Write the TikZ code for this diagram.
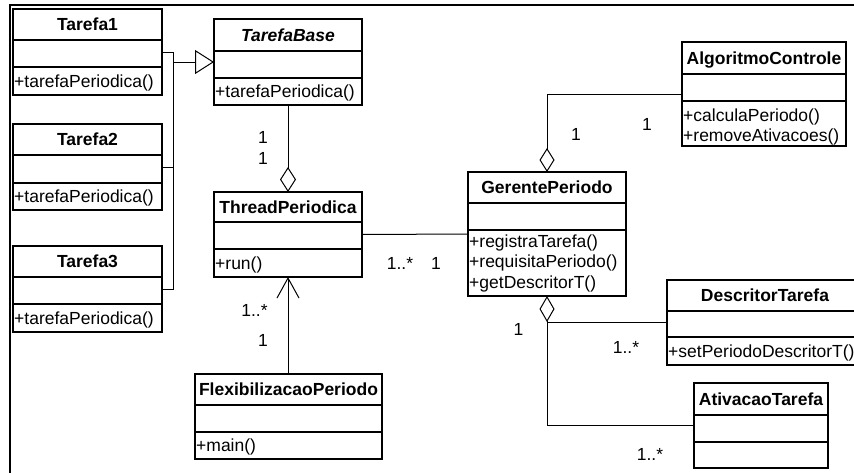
\documentclass[tikz,border=0pt]{standalone}
\usepackage{fontspec}
\setmainfont{Liberation Sans}
\usetikzlibrary{arrows.meta}
\tikzset{
  cbox/.style={draw, line width=1.5pt, inner sep=0pt, outer sep=0pt, anchor=north west},
  cline/.style={line width=1.5pt},
  conn/.style={line width=1pt},
  txt/.style={inner sep=0pt, text height=12.5pt, text depth=0pt, font=\fontsize{17.5}{20}\selectfont},
  ttl/.style={txt, font=\fontsize{17.5}{20}\selectfont\bfseries},
  meth/.style={txt, anchor=west},
  mult/.style={txt}
}
\newcommand\uclass[8]{%
  \node[cbox, minimum width={(#4-#2)*1pt}, minimum height={(#7-#3)*1pt}] (#1) at (#2,#3) {};
  \draw[cline] (#2,#5) -- (#4,#5);
  \draw[cline] (#2,#6) -- (#4,#6);
  \node[ttl] (#1-t) at ({(#2+#4)/2},{(#3+#5)/2}) {#8};
}
\begin{document}
\begin{tikzpicture}[x=1pt,y=-1pt]
\clip (0,0) rectangle (854,472);
\fill[white] (0,0) rectangle (854,472);
% frame
\draw[line width=2.5pt] (10,480) -- (10,5) -- (870,5);

% classes
\uclass{t1}{13}{9}{162}{40}{67}{95}{Tarefa1}
\node[meth] (t1-m1) at (14,81) {+tarefaPeriodica()};
\uclass{t2}{13}{124}{162}{155}{183}{210}{Tarefa2}
\node[meth] (t2-m1) at (14,196.5) {+tarefaPeriodica()};
\uclass{t3}{13}{246}{162}{277}{304}{332}{Tarefa3}
\node[meth] (t3-m1) at (14,318) {+tarefaPeriodica()};
\uclass{tb}{214}{19}{362}{51}{78}{105}{\itshape TarefaBase}
\node[meth] (tb-m1) at (215,91.5) {+tarefaPeriodica()};
\uclass{tp}{214}{192}{362}{222}{249}{277}{ThreadPeriodica}
\node[meth] (tp-m1) at (215,263) {+run()};
\uclass{fp}{195}{374}{382}{405}{432}{459}{FlexibilizacaoPeriodo}
\node[meth] (fp-m1) at (196,445.5) {+main()};
\uclass{gp}{468}{172}{626}{203}{230}{296}{GerentePeriodo}
\node[meth] (gp-m1) at (469,241.5) {+registraTarefa()};
\node[meth] (gp-m2) at (469,261.5) {+requisitaPeriodo()};
\node[meth] (gp-m3) at (469,282) {+getDescritorT()};
\uclass{ac}{682}{42}{846}{74}{101}{146}{AlgoritmoControle}
\node[meth] (ac-m1) at (683,115) {+calculaPeriodo()};
\node[meth] (ac-m2) at (683,135) {+removeAtivacoes()};
\uclass{dt}{667}{280}{863}{311}{337}{365}{DescritorTarefa}
\node[meth] (dt-m1) at (668,351) {+setPeriodoDescritorT()};
\uclass{at}{694}{383}{828}{415}{442}{468}{AtivacaoTarefa}

% generalization
\coordinate (j) at (173,62);
\draw[conn] (t1.east) -| (j |- t3.east) -- (t3.east);
\draw[conn] (t2.east) -- (t2.east -| j);
\draw[conn, -{Triangle[open, length=19pt, width=24pt]}] (j) -- (tb.west);

% aggregation TarefaBase - ThreadPeriodica
\draw[conn, -{Diamond[open, length=25pt, width=16pt]}] (tb.south) -- (tp.north);
\node[mult] (m1) at (263,137.5) {1};
\node[mult] (m2) at (263,158) {1};

% ThreadPeriodica - GerentePeriodo
\draw[conn] (tp.east) -- (gp.west);
\node[mult] (m3) at (400,263) {1..*};
\node[mult] (m4) at (436,263) {1};

% Flexibilizacao -> ThreadPeriodica
\draw[conn, -{Straight Barb[length=20pt, width=22pt]}] (fp.north -| tp.south) -- (tp.south);
\node[mult] (m5) at (254.5,310) {1..*};
\node[mult] (m6) at (263,340) {1};

% AlgoritmoControle - GerentePeriodo
\draw[conn, {Diamond[open, length=24pt, width=15pt]}-] (gp.north) |- (ac.west);
\node[mult] (m7) at (576,134) {1};
\node[mult] (m8) at (647,124) {1};

% GerentePeriodo - DescritorTarefa / AtivacaoTarefa
\draw[conn, {Diamond[open, length=26pt, width=15pt]}-] (gp.south) |- (at.west);
\draw[conn] (gp.south |- dt.west) -- (dt.west);
\node[mult] (m9) at (518.5,329) {1};
\node[mult] (m10) at (626,347) {1..*};
\node[mult] (m11) at (650,454) {1..*};
\end{tikzpicture}
\end{document}
